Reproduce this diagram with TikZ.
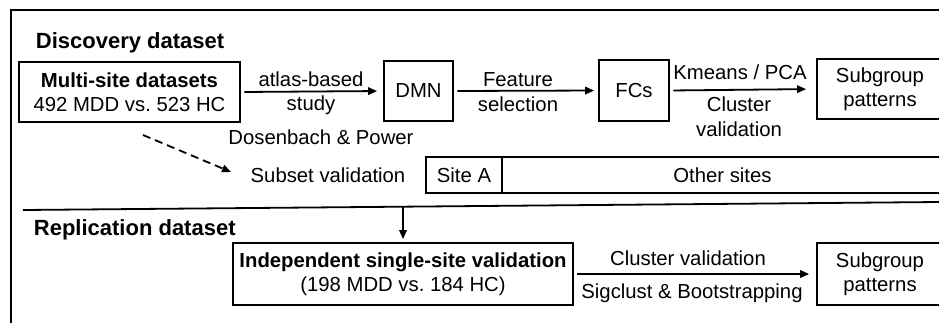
\documentclass[tikz,border=0pt]{standalone}
\usepackage{fontspec}
\setmainfont{Liberation Sans}
\usetikzlibrary{arrows.meta}
\begin{document}
\begin{tikzpicture}[x=1pt,y=-1pt,
  line width=1.8pt,
  every node/.style={font=\fontsize{20.3}{24.5}\selectfont, inner sep=0pt, align=center},
  heading/.style={font=\fontsize{22}{26}\selectfont\bfseries, anchor=base west},
  box/.style={draw, line width=1.8pt},
  flow/.style={-{Triangle[length=9pt,width=7.5pt]}, line width=1.8pt, shorten <=3.5pt, shorten >=5pt},
  hint/.style={-{Triangle[length=9pt,width=7.5pt]}, line width=1.8pt, dash pattern=on 8pt off 5pt}]
\useasboundingbox (0,0) rectangle (939,322);
\clip (0,0) rectangle (939,322);

% outer frame (continues past the right and lower edges)
\draw (11,340) -- (11,10) -- (960,10);

% ---- discovery part ----
\node[heading] (disc) at (35,48) {Discovery dataset};

\node[box, minimum width=221pt, minimum height=60pt] (multi) at (129.5,92)
  {\textbf{Multi-site datasets}\\492 MDD vs.\ 523 HC};
\node[box, minimum width=69pt, minimum height=60pt] (dmn) at (418.5,91) {DMN};
\node[box, minimum width=70pt, minimum height=61pt] (fcs) at (634,90.5) {FCs};
\node[box, minimum width=126pt, minimum height=60pt] (sub1) at (880,89) {Subgroup\\patterns};

\draw[flow, shorten >=6pt] (multi.east) -- (dmn.west);
\draw[flow, shorten >=4pt] (dmn.east) -- (fcs.west);
\draw[flow, shorten >=10pt] (fcs.east) -- (sub1.west);

\node (atlas) at (311,93) {atlas-based\\study};
\node (atlasref) at (321,137) {Dosenbach \& Power};
\node (feat) at (518,92) {Feature\\selection};
\node (km) at (740,72) {Kmeans / PCA};
\node (cval) at (739,116.5) {Cluster\\validation};

% subset split of the sites
\node (subset) at (328,175) {Subset validation};
\node[box, minimum width=76pt, minimum height=36pt] (siteA) at (464,175) {Site A};
\node[box, minimum width=441pt, minimum height=36pt] (others) at (722.5,175) {Other sites};

\coordinate (dfrom) at (143,135);
\coordinate (dto) at (231,172);
\draw[hint] (dfrom) -- (dto);

% separator between the two parts
\coordinate (sepL) at (23,210);
\coordinate (sepR) at (939,202);
\draw (sepL) -- (sepR);

% ---- replication part ----
\node[heading] (repl) at (33,235) {Replication dataset};

\node[box, minimum width=340pt, minimum height=62pt] (indep) at (403,274)
  {\textbf{Independent single-site validation}\\(198 MDD vs.\ 184 HC)};
\node[box, minimum width=126pt, minimum height=62pt] (sub2) at (880,274) {Subgroup\\patterns};

\coordinate (drop) at (403,206.6);
\draw[flow, shorten <=0pt, shorten >=3pt] (drop) -- (indep.north);
\draw[flow, shorten >=7pt] (indep.east) -- (sub2.west);

\node (cv2) at (688,258) {Cluster validation};
\node (sig) at (692,293) {Sigclust \& Bootstrapping};
\end{tikzpicture}
\end{document}
